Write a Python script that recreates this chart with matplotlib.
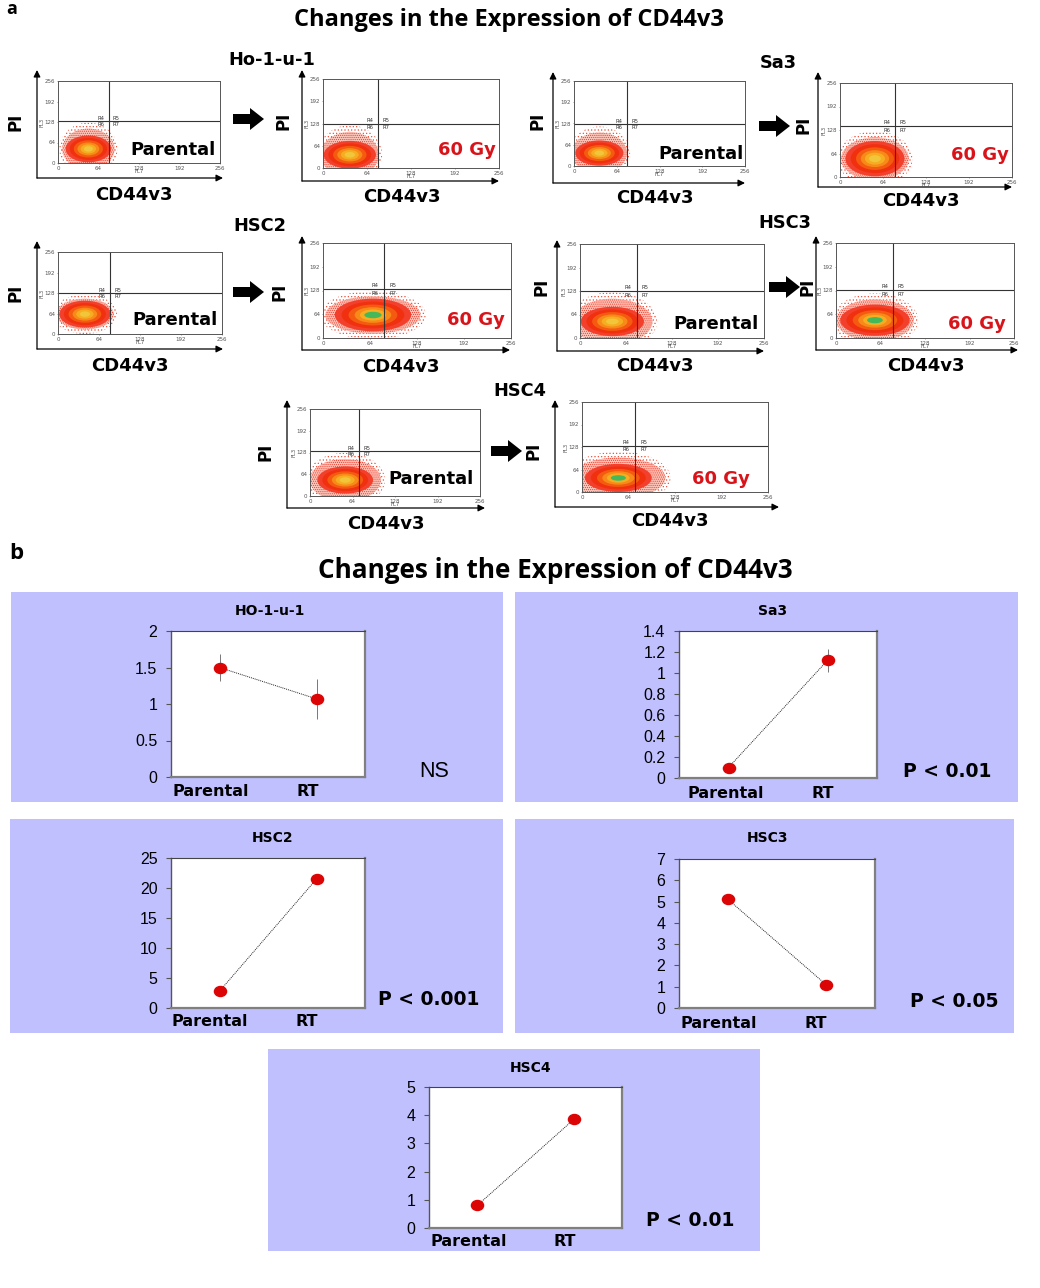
import matplotlib
matplotlib.use("Agg")
import matplotlib.pyplot as plt
from matplotlib.markers import MarkerStyle
from matplotlib.patches import Ellipse, Rectangle
from matplotlib.transforms import Affine2D

plt.rcParams["hatch.linewidth"] = 0.5

W, H = 1040, 1288

# ---- panel a values
flow_ticks = [0, 64, 128, 192, 256]
# quadrant gates in channel units
gate_x = [80, 80, 79, 82, 81, 83, 79, 82, 74, 73]
gate_y = [131, 127, 126, 139, 128, 132, 128, 129, 132, 131]
# cloud centre, dense part half widths, sparse part half widths (channels)
cloud_x = [48, 39, 38, 52, 42, 68, 45, 56, 53, 50]
cloud_y = [44, 38, 39, 50, 62, 62, 45, 48, 47, 40]
dense_rx = [36, 38, 36, 44, 40, 52, 44, 50, 42, 46]
dense_ry = [42, 40, 38, 48, 42, 44, 40, 42, 40, 40]
sparse_rx = [46, 47, 46, 56, 50, 72, 62, 62, 60, 72]
sparse_ry = [82, 85, 80, 75, 62, 65, 80, 72, 80, 75]
cloud_core = [False, False, False, False, False, True, False, True, False, True]

# ---- panel b values
names = ["HO-1-u-1", "Sa3", "HSC2", "HSC3", "HSC4"]
categories = ["Parental", "RT"]
means = [[1.5, 1.07], [0.1, 1.12], [2.8, 21.5], [5.1, 1.1], [0.8, 3.85]]
errors = [[0.19, 0.27], [0.01, 0.11], [0.1, 0.2], [0.05, 0.05], [0.03, 0.05]]
ymax = [2, 1.4, 25, 7, 5]
yticks = [[0, 0.5, 1, 1.5, 2],
          [0, 0.2, 0.4, 0.6, 0.8, 1, 1.2, 1.4],
          [0, 5, 10, 15, 20, 25],
          [0, 1, 2, 3, 4, 5, 6, 7],
          [0, 1, 2, 3, 4, 5]]
ytick_labels = [["0", "0.5", "1", "1.5", "2"],
                ["0", "0.2", "0.4", "0.6", "0.8", "1", "1.2", "1.4"],
                ["0", "5", "10", "15", "20", "25"],
                ["0", "1", "2", "3", "4", "5", "6", "7"],
                ["0", "1", "2", "3", "4", "5"]]
p_labels = ["NS", "P < 0.01", "P < 0.001", "P < 0.05", "P < 0.01"]

# ---- layout in pixels
flow_boxes = [(58, 81, 220, 163), (323, 79, 499, 168), (574, 81, 745, 166), (840, 83, 1012, 177),
              (58, 252, 222, 334), (323, 243, 511, 338), (580, 244, 764, 338), (836, 243, 1014, 338),
              (310, 409, 480, 496), (582, 402, 768, 492)]
flow_arrows = [(37, 178, 70, 223), (302, 181, 70, 499), (553, 183, 72, 745), (818, 187, 72, 1012),
               (37, 349, 241, 223), (302, 350, 236, 510), (557, 351, 240, 764), (816, 350, 236, 1018),
               (287, 508, 400, 485), (555, 507, 400, 779)]
pi_pos = [(15, 122), (284, 121), (537, 121), (803, 125), (15, 293),
          (280, 292), (541, 287), (807, 287), (266, 452), (533, 451)]
cd_pos = [(134, 195), (402, 197), (655, 198), (921, 201), (130, 366),
          (401, 367), (655, 366), (926, 366), (386, 524), (670, 521)]
tag_pos = [(173, 150), (467, 150), (701, 154), (980, 155), (175, 320),
           (476, 320), (716, 324), (977, 324), (431, 479), (721, 479)]
block_arrows = [(233, 119), (759, 126), (233, 292), (769, 287), (491, 451)]
group_labels = [("Ho-1-u-1", 272, 60), ("Sa3", 778, 63), ("HSC2", 260, 226),
                ("HSC3", 785, 223), ("HSC4", 520, 391)]

bg_boxes = [(11, 592, 503, 802), (515, 592, 1018, 802), (10, 819, 503, 1033),
            (515, 819, 1014, 1033), (268, 1049, 760, 1251)]
plot_boxes = [(171, 631, 365, 777), (679, 631, 877, 778), (171, 858, 365, 1008),
              (679, 859, 875, 1008), (429, 1087, 622, 1228)]
title_pos = [(270, 611), (773, 611), (273, 838), (767, 838), (531, 1068)]
p_pos = [(434, 771), (947, 771), (429, 999), (954, 1001), (690, 1220)]
cat_y = [791, 793, 1022, 1023, 1242]
cat_shift = [(-9, -9), (-3, -5), (-10, -10), (-9, -10), (-9, -9)]

level_colors = ["#f2402c", "#f0300f", "#f45a10", "#f78a18", "#f6ad22", "#f2c63a"]
level_sizes = [1.0, 0.82, 0.64, 0.48, 0.34, 0.2]

BOLD = "DejaVu Sans"
ARIAL = "Liberation Sans"
RED = "#d8141a"

fig = plt.figure(figsize=(W / 100, H / 100), dpi=100, facecolor="white")
bg = fig.add_axes([0, 0, 1, 1])
bg.set_xlim(0, W)
bg.set_ylim(H, 0)
bg.axis("off")


def add_box(box, zorder=2):
    x0, y0, x1, y1 = box
    return fig.add_axes([x0 / W, 1 - y1 / H, (x1 - x0) / W, (y1 - y0) / H], zorder=zorder)


def label(x, y, s, size, family=BOLD, weight="bold", color="black", **kw):
    bg.text(x, y, s, fontsize=size, family=family, weight=weight, color=color,
            ha="center", va="center", **kw)


label(12, 9, "a", 13, family="Open Sans")
label(16, 553, "b", 16, family="Open Sans")
label(509, 20, "Changes in the Expression of CD44v3", 17, family="Open Sans")
label(555, 570, "Changes in the Expression of CD44v3", 18.8, family="Open Sans")

for s, x, y in group_labels:
    label(x, y, s, 12.8)

for x, y in block_arrows:
    bg.arrow(x, y, 31, 0, width=10, head_width=22, head_length=14,
             length_includes_head=True, color="black", lw=0)

# flow plots
for i, box in enumerate(flow_boxes):
    ax = add_box(box)
    ax.set_xlim(0, 256)
    ax.set_ylim(0, 256)
    ax.set_xticks(flow_ticks)
    ax.set_yticks(flow_ticks)
    ax.tick_params(labelsize=4, length=1, width=0.4, pad=1, colors="#555555")
    for sp in ax.spines.values():
        sp.set_linewidth(0.7)
        sp.set_color("#555555")
    c = (cloud_x[i], cloud_y[i])
    # sparse dots round the dense part
    ax.add_patch(Ellipse(c, 2 * sparse_rx[i], 2 * sparse_ry[i], fc="none", ec="#f0503a", lw=0, hatch="....."))
    ax.add_patch(Ellipse(c, 1.8 * sparse_rx[i], 1.55 * sparse_ry[i], fc="#fbc4b8", ec="#ee3a2a", lw=0, hatch="........"))
    for size, col in zip(level_sizes, level_colors):
        ax.add_patch(Ellipse(c, 2 * dense_rx[i] * size, 2 * dense_ry[i] * size, fc=col, ec="none"))
    if cloud_core[i]:
        ax.add_patch(Ellipse(c, 0.45 * dense_rx[i], 0.4 * dense_ry[i], fc="#45b85a", ec="none"))
    ax.axvline(gate_x[i], color="#333333", lw=0.8)
    ax.axhline(gate_y[i], color="#333333", lw=0.8)
    gx, gy = gate_x[i], gate_y[i]
    for s, dx, dy in [("R4", -12, 9), ("R5", 12, 9), ("R6", -12, -11), ("R7", 12, -11)]:
        ax.text(gx + dx, gy + dy, s, fontsize=3.8, ha="center", va="center", color="#333333")
    ax.set_xlabel("FL7", fontsize=3.8, labelpad=-1, color="#555555")
    ax.set_ylabel("FL3", fontsize=3.8, labelpad=0, color="#555555")

    ox, oy, ty, rx = flow_arrows[i]
    arrow = dict(arrowstyle="-|>", color="black", lw=0.9, mutation_scale=10, shrinkA=0, shrinkB=0)
    bg.annotate("", xy=(ox, ty), xytext=(ox, oy), arrowprops=arrow)
    bg.annotate("", xy=(rx, oy), xytext=(ox, oy), arrowprops=arrow)

    label(pi_pos[i][0], pi_pos[i][1], "PI", 12, rotation=90)
    label(cd_pos[i][0], cd_pos[i][1], "CD44v3", 13)

# tag labels need to sit over the flow boxes
tag_ax = fig.add_axes([0, 0, 1, 1], zorder=3)
tag_ax.set_xlim(0, W)
tag_ax.set_ylim(H, 0)
tag_ax.axis("off")
tag_ax.patch.set_alpha(0)
for i in range(len(tag_pos)):
    s = "Parental" if i % 2 == 0 else "60 Gy"
    tag_ax.text(tag_pos[i][0], tag_pos[i][1], s, fontsize=13, family=BOLD, weight="bold",
                color="black" if i % 2 == 0 else RED, ha="center", va="center")

dot = MarkerStyle("o", transform=Affine2D().scale(1.15, 0.95))

# line plots
for i, box in enumerate(plot_boxes):
    x0, y0, x1, y1 = bg_boxes[i]
    bg.add_patch(Rectangle((x0, y0), x1 - x0, y1 - y0, fc="#c0c0ff", ec="none"))
    ax = add_box(box)
    ax.set_xlim(0, 2)
    ax.set_ylim(0, ymax[i])
    ax.set_xticks([])
    ax.set_yticks(yticks[i], ytick_labels[i])
    ax.tick_params(axis="y", labelsize=11.5, length=3.8, width=0.8, pad=6, color="#555555")
    for t in ax.get_yticklabels():
        t.set_family(ARIAL)
    ax.spines["top"].set_color("#444444")
    ax.spines["left"].set_color("#555555")
    ax.spines["right"].set_color("#808080")
    ax.spines["bottom"].set_color("#808080")
    ax.spines["top"].set_linewidth(0.8)
    ax.spines["left"].set_linewidth(1.0)
    ax.spines["right"].set_linewidth(1.6)
    ax.spines["bottom"].set_linewidth(1.6)
    xs = [0.5, 1.5]
    ax.errorbar(xs, means[i], yerr=errors[i], fmt="none", ecolor="#777777", elinewidth=0.7)
    ax.plot(xs, means[i], color="#222222", lw=0.7, ls=(0, (1, 1)))
    ax.plot(xs, means[i], ls="none", marker=dot, color="#dc0505", ms=7.6, clip_on=False)

    for j, cat in enumerate(categories):
        cx = box[0] + (box[2] - box[0]) * xs[j] / 2 + cat_shift[i][j]
        label(cx, cat_y[i], cat, 11.5)

    label(title_pos[i][0], title_pos[i][1], names[i], 10)
    if p_labels[i] == "NS":
        label(p_pos[i][0], p_pos[i][1], "NS", 15.5, family=ARIAL, weight="normal")
    else:
        label(p_pos[i][0], p_pos[i][1], p_labels[i], 13.5)

fig.savefig("out.png", dpi=100)
